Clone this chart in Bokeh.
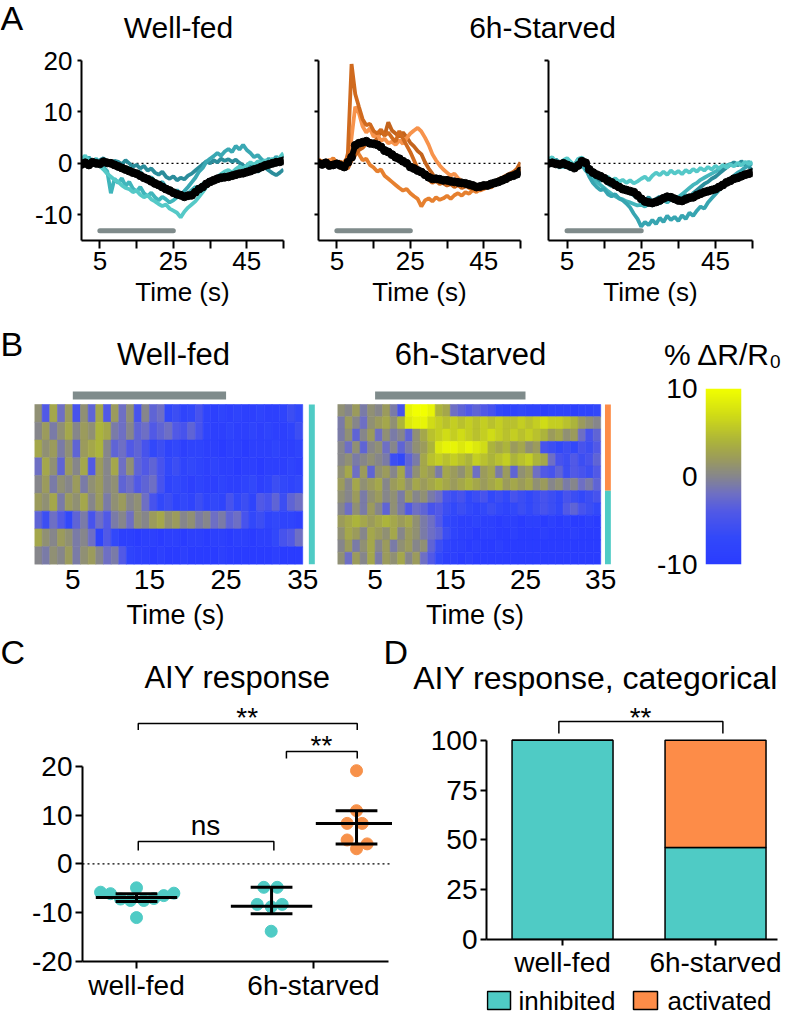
import numpy as np
from bokeh.plotting import figure
from bokeh.models import Range1d, Label, Span, FixedTicker, LinearColorMapper, ColumnDataSource
from bokeh.layouts import column, row
from bokeh.transform import linear_cmap
from bokeh.embed import file_html
from bokeh.resources import INLINE

FONT = "Liberation Sans"
TEAL = "#4fcbc5"
ORANGE = "#fd8c48"
GRAY_BAR = "#7f8b8b"

# ---------------- data: panel A (traces, % dR/R0 vs time) ----------------
time_s = list(range(56))
stim_on, stim_off = 5, 25

wf_mean = [-0.2, 0.1, -0.3, 0.2, 0.0, -0.1, 0.3, 0.1, 0.0, -0.3,
           -0.6, -0.9, -1.2, -1.5, -1.8, -2.0, -2.4, -2.8, -3.1, -3.5,
           -3.9, -4.2, -4.6, -5.0, -5.3, -5.7, -6.0, -6.2, -6.5, -6.3,
           -6.2, -5.6, -5.0, -4.6, -4.0, -3.6, -3.3, -3.0, -2.8, -2.7,
           -2.6, -2.4, -2.2, -2.0, -1.9, -1.7, -1.5, -1.2, -1.0, -0.7,
           -0.4, -0.2, 0.0, 0.2, 0.3, 0.5]
wf_tr1 = [0.5, -0.3, 0.8, 0.2, -0.5, 0.6, 1.0, 0.2, -0.4, 0.5,
          0.3, -0.2, 0.6, 0.0, -0.6, -0.3, -1.0, -0.5, -1.4, -1.0,
          -1.8, -2.2, -1.6, -2.6, -3.0, -2.5, -3.3, -2.8, -3.1, -2.4,
          -2.0, -1.4, -0.8, -0.2, 0.4, 0.0, 0.6, 0.2, 0.9, 0.5,
          0.8, 0.3, 0.7, 0.1, -0.4, -0.9, -0.5, -1.2, -1.6, -1.1,
          -0.8, -1.4, -1.9, -2.3, -1.8, -1.2]
wf_tr2 = [-0.5, 0.4, 1.2, 0.3, -0.4, 0.2, 0.8, -0.2, 0.5, -0.6,
          -0.9, -0.4, -1.3, -0.8, -1.7, -2.0, -1.6, -2.6, -3.0, -2.7,
          -3.5, -4.0, -3.6, -4.6, -5.3, -5.9, -5.2, -6.0, -5.4, -4.6,
          -3.7, -2.8, -1.6, -0.9, 0.3, 0.9, 1.4, 2.0, 1.5, 2.3,
          2.8, 2.2, 3.4, 2.7, 3.6, 2.6, 2.0, 1.2, 1.6, 0.8,
          0.2, 0.9, 0.4, 1.3, 0.7, 1.6]
wf_tr3 = [0.8, 1.5, 0.4, -0.3, 0.6, -0.5, -1.2, -2.0, -2.6, -3.2,
          -3.6, -4.3, -4.8, -5.0, -5.6, -5.3, -6.1, -6.6, -6.2, -7.0,
          -7.4, -7.9, -8.3, -8.0, -8.8, -9.2, -9.6, -10.5, -9.4, -8.6,
          -8.0, -7.4, -6.5, -5.6, -4.6, -3.8, -3.2, -2.6, -2.1, -1.6,
          -1.3, -1.8, -1.1, -0.6, -1.0, -0.4, 0.2, -0.3, 0.4, 0.1,
          0.6, 0.2, 0.9, 0.4, 1.2, 2.0]
wf_tr4 = [-0.2, 0.5, -0.6, 0.2, 0.9, 0.0, -0.8, -1.5, -5.8, -3.0,
          -3.8, -2.9, -4.4, -3.6, -4.9, -5.5, -4.6, -5.8, -6.4, -5.7,
          -6.6, -7.2, -6.5, -7.0, -7.6, -7.2, -6.6, -6.0, -6.8, -5.9,
          -5.2, -4.6, -4.9, -4.0, -3.7, -3.2, -3.6, -2.9, -3.3, -2.6,
          -2.9, -2.2, -2.6, -1.9, -2.3, -1.5, -1.8, -1.0, -1.3, -0.6,
          -0.9, -0.3, 0.3, -0.2, 0.6, 1.8]

act_mean = [0.0, -0.2, 0.1, -0.4, -0.3, -0.1, -0.4, -0.7, 0.2, 1.2,
            3.5, 3.9, 4.1, 4.3, 3.9, 3.8, 3.6, 3.2, 2.5, 2.2,
            1.7, 1.2, 0.9, 0.4, 0.0, -0.7, -1.0, -1.4, -1.7, -2.2,
            -2.7, -3.0, -3.0, -3.1, -3.3, -3.3, -3.5, -3.6, -3.7, -3.8,
            -3.9, -4.1, -4.3, -4.6, -4.5, -4.3, -4.3, -4.0, -3.8, -3.6,
            -3.3, -3.0, -2.6, -2.4, -2.1, -1.5]
act_tr1 = [0.3, -0.4, 0.6, 0.0, -0.8, 0.2, -0.5, -1.0, 2.0, 19.3,
           13.5, 11.0, 8.6, 7.4, 7.7, 6.3, 5.8, 6.6, 5.4, 6.0,
           5.0, 4.2, 6.3, 4.8, 3.5, 2.2, 0.6, -1.0, -2.0, -2.6,
           -3.1, -3.8, -3.4, -4.0, -3.7, -4.2, -3.9, -4.4, -4.1, -4.6,
           -4.3, -4.8, -5.0, -4.6, -5.2, -4.9, -4.4, -4.7, -4.0, -3.6,
           -3.2, -3.5, -2.8, -2.4, -1.9, -0.6]
act_tr2 = [-0.6, 0.4, -0.2, 0.8, -0.4, 0.2, -1.0, -0.3, 0.5, 5.0,
           11.0, 9.8, 7.2, 6.0, 6.8, 5.2, 5.6, 4.4, 4.8, 3.9,
           4.2, 3.6, 4.5, 3.8, 4.9, 5.8, 6.4, 6.9, 6.2, 5.0,
           3.6, 1.8, 0.6, -0.4, -1.2, -1.8, -2.4, -2.0, -2.9, -3.4,
           -3.8, -4.4, -4.0, -4.8, -5.3, -5.0, -4.6, -4.2, -3.8, -3.9,
           -3.4, -2.9, -3.1, -2.4, -1.8, -1.0]
act_tr3 = [0.8, 0.2, -0.5, 0.4, 1.0, 0.1, -0.6, 0.3, 1.2, 2.4,
           3.2, 1.8, 0.6, 0.9, -0.3, -0.8, -1.6, -1.2, -2.4, -3.0,
           -3.6, -4.2, -4.8, -5.3, -5.0, -5.8, -6.4, -6.9, -8.4, -7.2,
           -6.8, -7.4, -6.6, -7.1, -6.8, -6.3, -6.9, -6.2, -5.8, -6.3,
           -5.6, -5.9, -5.2, -5.6, -5.0, -4.7, -4.2, -4.5, -3.8, -3.5,
           -3.1, -2.6, -2.9, -2.2, -1.6, -1.2]
act_tr4 = [-0.3, 0.5, 0.0, -0.6, 0.3, -0.2, 0.4, -0.8, -1.0, 0.5,
           1.6, 2.6, 3.0, 3.8, 4.4, 3.6, 5.0, 6.2, 5.4, 8.0,
           6.4, 5.8, 5.2, 6.0, 5.1, 4.0, 3.3, 2.4, 1.8, 0.2,
           -1.0, -2.0, -3.2, -2.8, -3.9, -4.3, -4.0, -4.6, -4.2, -4.8,
           -4.5, -4.2, -4.7, -4.4, -4.9, -4.3, -3.9, -4.2, -3.6, -3.1,
           -2.8, -2.4, -2.0, -1.7, -1.1, 0.2]

inh_mean = [0.0, 0.1, -0.1, -0.2, 0.0, -0.3, -0.6, -0.9, -0.4, 0.4,
            0.1, -1.2, -1.8, -2.2, -2.5, -2.9, -3.4, -3.7, -4.2, -4.6,
            -5.0, -5.2, -5.4, -5.6, -6.2, -6.9, -7.4, -7.6, -7.7, -7.5,
            -7.2, -6.8, -6.5, -6.6, -6.9, -7.2, -7.3, -7.0, -6.7, -6.6,
            -6.2, -5.9, -5.6, -5.4, -5.2, -5.0, -4.6, -4.2, -3.7, -3.4,
            -3.0, -2.8, -2.5, -2.2, -2.0, -1.8]
inh_tr1 = [0.8, 1.2, 0.2, -0.5, 0.6, 1.0, 0.3, -0.4, 0.9, 1.1,
           0.4, -0.8, -1.6, -2.4, -2.0, -3.0, -2.6, -3.4, -2.9, -3.6,
           -3.2, -3.8, -3.3, -3.9, -3.5, -3.0, -2.6, -3.3, -2.4, -1.8,
           -2.3, -1.6, -2.2, -1.4, -2.0, -1.5, -2.1, -1.3, -1.8, -1.1,
           -1.6, -0.9, -1.4, -0.7, -1.2, -0.5, -1.0, -0.3, -0.8, -0.2,
           -0.6, 0.1, -0.4, 0.3, -0.1, 0.2]
inh_tr2 = [0.6, -0.2, 0.8, 0.1, -0.6, 0.3, -0.8, -0.3, 0.8, 0.5,
           -0.4, -1.6, -2.2, -2.8, -3.4, -3.0, -4.0, -4.4, -3.9, -4.8,
           -5.3, -4.9, -5.8, -6.2, -6.8, -6.4, -7.2, -6.6, -7.4, -6.9,
           -6.5, -7.1, -6.4, -6.8, -7.3, -6.7, -7.0, -6.2, -6.6, -5.8,
           -5.2, -4.6, -4.0, -3.6, -3.0, -2.6, -2.0, -1.4, -0.8, -0.3,
           0.2, -0.4, 0.4, -0.2, -0.6, -1.4]
inh_tr3 = [-0.3, 0.4, -0.5, 0.2, -0.8, -0.2, -1.0, -0.6, 0.3, -0.2,
           -1.0, -2.6, -3.8, -4.6, -5.2, -5.0, -6.0, -6.4, -6.0, -6.8,
           -7.2, -7.8, -8.6, -9.8, -10.8, -12.3, -11.4, -12.0, -11.0, -11.8,
           -10.6, -11.4, -10.2, -11.0, -10.4, -11.2, -10.1, -10.8, -9.6, -10.2,
           -9.2, -8.4, -8.8, -7.6, -6.8, -6.0, -5.2, -4.4, -3.6, -3.0,
           -2.4, -1.8, -1.4, -0.8, -0.4, 0.0]
inh_tr4 = [-0.6, 0.2, -0.2, -0.9, 0.1, -0.5, -1.2, -0.4, 0.4, -0.3,
           -1.4, -2.0, -2.8, -3.6, -4.2, -4.8, -5.4, -5.9, -6.4, -6.8,
           -7.0, -7.4, -7.6, -7.9, -8.2, -8.0, -8.4, -7.8, -8.2, -7.6,
           -7.8, -7.2, -7.6, -7.0, -7.3, -6.6, -6.0, -5.4, -4.8, -4.2,
           -3.8, -3.2, -2.8, -2.4, -2.0, -1.6, -1.2, -0.8, -0.4, -0.2,
           0.0, -0.3, 0.1, -0.2, 0.3, -0.1]

# ---------------- data: panel B (heatmaps, one row per animal, 1 s bins) ----------------
heat_time = list(range(35))
wf_heat = [
    [1, -4, 3, -2, 2, -5, 1, -3, 3, -4, 2, -2, 1, -5, 0, -3, -2, -7, -6, -8, -7, -5, -8, -9, -8, -9, -8, -9, -9, -8, -9, -9, -8, -6, -7],
    [0, 2, -1, 1, 3, 0, 2, 1, 4, 3, -1, -2, 0, -3, -2, -4, -3, -2, -4, -5, -3, -5, -8, -9, -9, -8, -9, -9, -8, -9, -8, -9, -9, -8, -6],
    [3, 1, 2, -1, 1, -3, 2, 3, 4, 0, -3, -2, -4, -3, -5, -7, -6, -8, -7, -9, -8, -8, -9, -9, -10, -9, -9, -10, -9, -9, -9, -8, -9, -9, -8],
    [-2, 3, 1, -3, 2, 0, 3, -4, 2, 0, 3, -2, 1, -3, -4, -3, -5, -7, -6, -8, -7, -8, -9, -8, -9, -9, -10, -9, -9, -10, -9, -9, -9, -8, -9],
    [0, 2, -1, 1, 0, 2, -1, 1, 2, 0, 1, -3, -2, -4, -3, -2, -5, -8, -7, -8, -9, -8, -9, -9, -8, -9, -9, -8, -7, -9, -8, -6, -7, -8, -7],
    [2, 1, 3, -1, 2, 1, 3, 0, 2, -1, 1, 2, 0, 1, -2, -5, -7, -6, -8, -7, -8, -6, -8, -7, -8, -5, -7, -6, -8, -4, -5, -3, -6, -3, -2],
    [-3, -6, -2, -4, -7, -3, -1, -5, -2, -4, -1, 0, -2, 1, 0, 2, 3, 1, 2, 0, 1, -1, 0, -2, -1, -3, -2, -5, -7, -6, -8, -7, -8, -8, -9],
    [3, 1, 0, 2, 1, -1, 0, -2, -8, -4, -7, -9, -9, -10, -9, -9, -10, -9, -9, -10, -9, -9, -10, -9, -9, -10, -9, -9, -10, -9, -9, -7, -5, -4, -2],
    [0, -1, 1, 0, 2, -1, 1, 2, 0, -2, -1, -4, -8, -9, -9, -10, -9, -10, -10, -9, -10, -10, -10, -10, -9, -10, -10, -10, -10, -10, -10, -9, -10, -10, -10],
]
st_heat = [
    [1, 0, 2, -1, 1, 0, 2, -1, -5, 9, 10, 10, 9, 4, 3, -2, -3, -4, -3, -4, -5, -7, -8, -8, -7, -8, -8, -9, -8, -8, -8, -9, -8, -8, -7],
    [-1, 2, 0, -2, 1, 2, 3, 1, 4, 8, 9, 9, 7, 6, 5, 6, 5, 6, 5, 6, 5, 6, 5, 5, 6, 5, 6, 7, 6, 6, 5, 4, 2, 1, 0],
    [-1, 1, -3, 0, 2, -2, 1, -1, 0, -3, 1, 3, 5, 6, 7, 6, 7, 6, 5, 6, 7, 6, 5, 6, 5, 6, 5, 4, 2, 3, 1, 2, -2, -5, -3],
    [0, -2, 1, -3, 0, 1, -2, 0, -3, -1, 1, 2, 4, 8, 9, 9, 8, 9, 8, 7, 4, 3, 4, 2, 3, 1, 2, -5, -6, -7, -6, -7, -5, -6, -4],
    [0, 1, -1, 0, 1, 0, -1, -6, -7, -3, -1, 3, 5, 6, 5, 6, 5, 4, 6, 5, 4, 5, 6, 4, 5, 6, 4, 3, -2, -5, -6, -4, -6, -5, -3],
    [1, 3, -2, 2, -3, 1, 2, 0, 3, -2, 1, 3, 2, -1, 3, 2, 1, 3, -2, 2, 3, -1, 2, -3, 1, 2, -2, -4, -5, -3, -6, -4, -5, -6, -4],
    [2, 0, 3, 1, 2, 3, 0, 2, 3, 1, 3, 2, 3, 4, 3, 2, 3, 4, 3, 2, 3, 4, 2, 3, 2, 3, 1, 2, 0, 1, -1, 0, -2, -1, -3],
    [1, 0, 2, -1, 1, 2, 0, 1, -1, 2, 0, 1, -1, -2, -5, -6, -5, -7, -6, -5, -7, -6, -7, -5, -6, -7, -6, -5, -6, -7, -5, -6, -7, -6, -5],
    [0, -2, 1, -1, 2, 0, -3, 1, -1, -4, -2, -3, -5, -4, -6, -7, -6, -7, -8, -7, -6, -7, -8, -7, -6, -7, -6, -5, -6, -7, -4, -3, -5, -6, -7],
    [2, 3, 4, 3, 2, 3, 4, 3, 2, 3, 1, -1, -2, -4, -7, -8, -9, -9, -8, -9, -9, -10, -9, -9, -10, -9, -9, -10, -9, -10, -9, -10, -10, -9, -10],
    [1, 3, 2, 0, 3, 2, 1, 3, 0, 2, 1, -1, -2, -3, -6, -8, -9, -9, -10, -9, -9, -10, -10, -9, -10, -10, -10, -9, -10, -10, -10, -9, -10, -10, -10],
    [0, 2, -1, 1, 3, 0, 2, -1, 1, 2, 0, 1, -3, -6, -8, -9, -9, -10, -9, -10, -10, -9, -10, -10, -10, -10, -10, -10, -10, -10, -10, -10, -10, -10, -10],
    [1, -2, 2, 0, 3, -1, 2, 1, 3, 0, 2, -2, -4, -7, -9, -9, -10, -9, -10, -10, -10, -10, -10, -10, -10, -10, -10, -10, -10, -10, -10, -10, -10, -10, -10],
]
st_activated_rows = 7
st_inhibited_rows = 6

# ---------------- data: panel C (extreme responses) ----------------
wf_pos = [-0.203, -0.147, -0.09, -0.034, 0.0, 0.041, 0.098, 0.154, 0.211, 0.0]
wf_vals = [-5.8, -6.1, -7.2, -7.5, -4.9, -7.5, -7.1, -6.5, -6.0, -11.0]
inh_pos = [0.719, 0.795, 0.682, 0.823, 0.761, 0.761]
inh_vals = [-4.8, -4.8, -8.3, -8.3, -8.8, -13.8]
act_pos = [1.243, 1.243, 1.19, 1.275, 1.19, 1.303, 1.243]
act_vals = [19.1, 10.9, 8.3, 8.3, 4.9, 4.1, 3.1]
grp_pos = [0.0, 0.763, 1.243]
grp_mean = [-6.9, -8.7, 8.3]
grp_low = [-7.7, -10.2, 4.1]
grp_high = [-6.1, -4.8, 10.9]

# ---------------- data: panel D (categorical) ----------------
cond_pos = [0, 1]
cond_labels = ["well-fed", "6h-starved"]
pct_inhibited = [100.0, 46.2]
pct_activated = [0.0, 53.8]
legend_labels = ["inhibited", "activated"]

# ---------------- colour map ----------------
anchors = [(-10, "#2a3cff"), (-7, "#3248fa"), (-4, "#5159e6"), (-2, "#6e6fc4"), (0, "#86868c"),
           (2, "#9b9b5c"), (4, "#acb33b"), (7, "#d0dc16"), (10, "#f2ff00")]


def build_palette(n=256):
    vals = [a[0] for a in anchors]
    rgb = [tuple(int(a[1][i:i + 2], 16) for i in (1, 3, 5)) for a in anchors]
    out = []
    for k in range(n):
        v = -10 + 20 * k / (n - 1)
        j = max(i for i in range(len(vals) - 1) if vals[i] <= v) if v < 10 else len(vals) - 2
        f = (v - vals[j]) / (vals[j + 1] - vals[j])
        c = [round(rgb[j][m] + f * (rgb[j + 1][m] - rgb[j][m])) for m in range(3)]
        out.append("#%02x%02x%02x" % tuple(c))
    return out


PALETTE = build_palette()


def fig(**kw):
    p = figure(title=None, output_backend="svg", toolbar_location=None, **kw)
    p.outline_line_color = None
    return p


def label(p, x, y, text, size, align="center", angle=0):
    p.add_layout(Label(x=x, y=y, text=text, text_font=FONT, text_font_size=size,
                       text_align=align, text_baseline="middle", angle=angle,
                       angle_units="deg", text_color="black"))


def strip(h):
    return fig(width=791, height=h, x_range=Range1d(0, 791), y_range=Range1d(0, h),
               x_axis_type=None, y_axis_type=None, min_border=0)


def style_axis(ax, size, tick_out=7, standoff=3):
    ax.axis_line_width = 2
    ax.axis_line_color = "black"
    ax.major_tick_line_width = 2
    ax.major_tick_line_color = "black"
    ax.major_tick_in = 0
    ax.major_tick_out = tick_out
    ax.minor_tick_line_color = None
    ax.major_label_text_font = FONT
    ax.major_label_text_font_size = size
    ax.major_label_text_color = "black"
    ax.major_label_standoff = standoff
    ax.axis_label_text_font = FONT
    ax.axis_label_text_font_size = size
    ax.axis_label_text_font_style = "normal"
    ax.axis_label_text_color = "black"


# ---------------- strip A (titles) ----------------
sA = strip(46)
label(sA, 0, 29, "A", "34px", align="left")
label(sA, 178, 19, "Well-fed", "30px")
label(sA, 542, 19, "6h-Starved", "30px")


def trace_panel(w, ml, mr, traces, colors, mean, first):
    p = fig(width=w, height=272, x_range=Range1d(0, 55), y_range=Range1d(-15, 20),
            min_border_left=ml, min_border_right=mr, min_border_top=14, min_border_bottom=78)
    p.grid.visible = False
    p.add_layout(Span(location=0, dimension="width", line_color="black", line_dash="2 3",
                      line_width=1.2, level="underlay"))
    p.segment(x0=[stim_on], y0=[-13.1], x1=[stim_off], y1=[-13.1], line_color=GRAY_BAR,
              line_width=5, line_cap="round")
    for tr, col in zip(traces, colors):
        p.line(time_s, tr, line_color=col, line_width=3.8)
    p.line(time_s, mean, line_color="black", line_width=6)
    p.scatter(time_s, mean, size=8, color="black")
    style_axis(p.xaxis[0], "26px", tick_out=8, standoff=3)
    style_axis(p.yaxis[0], "26px", tick_out=4, standoff=5)
    p.xaxis.ticker = FixedTicker(ticks=[5, 15, 25, 35, 45, 55])
    p.xaxis.major_label_overrides = {15: "", 35: "", 55: ""}
    p.xaxis.axis_label = "Time (s)"
    p.xaxis.axis_label_standoff = 4
    p.yaxis.ticker = FixedTicker(ticks=[-10, 0, 10, 20])
    if first:
        p.yaxis.major_label_overrides = {-10: "-10"}
        label(p, -17.6, 3.5, "% \u0394R/R\u2080", "26px", angle=90)
    else:
        p.yaxis.major_label_overrides = {-10: "", 0: "", 10: "", 20: ""}
    return p


a1 = trace_panel(300, 81, 17, [wf_tr1, wf_tr2, wf_tr4, wf_tr3],
                 ["#2b8d9b", "#3aa8b3", "#3fb5bb", "#55c9c7"], wf_mean, True)
a2 = trace_panel(233, 18, 13, [act_tr3, act_tr4, act_tr2, act_tr1],
                 ["#e6802f", "#c4641d", "#f7934c", "#d06a1e"], act_mean, False)
a3 = trace_panel(258, 15, 39, [inh_tr4, inh_tr2, inh_tr3, inh_tr1],
                 ["#45b6bc", "#2b8d9b", "#37a5b1", "#55c8c8"], inh_mean, False)

# ---------------- strip B (titles) ----------------
sB = strip(55)
label(sB, 0, 30, "B", "34px", align="left")
label(sB, 173, 19, "Well-fed", "31px")
label(sB, 470, 19, "6h-Starved", "31px")
label(sB, 723, 19, "% \u0394R/R\u2080", "30px")


def heat_panel(w, ml, mr, mat, xmax, side):
    n = len(mat)
    ytop = n * 187.0 / 170.0
    p = fig(width=w, height=259, x_range=Range1d(0, xmax), y_range=Range1d(0, ytop),
            y_axis_type=None, min_border_left=ml, min_border_right=mr,
            min_border_top=5, min_border_bottom=67)
    p.grid.visible = False
    xs, ys, vs = [], [], []
    for r, rv in enumerate(mat):
        for t, v in zip(heat_time, rv):
            xs.append(t + 0.5)
            ys.append(n - r - 0.5)
            vs.append(v)
    src = ColumnDataSource(dict(x=xs, y=ys, v=vs))
    cmap = linear_cmap("v", PALETTE, -10, 10)
    p.rect(x="x", y="y", width=1, height=1, source=src, fill_color=cmap, line_color=cmap, line_width=0.6)
    p.segment(x0=[stim_on], y0=[n * 1.056], x1=[stim_off], y1=[n * 1.056], line_color=GRAY_BAR, line_width=8)
    for (b, t, c) in side:
        p.quad(left=[xmax - 1.0], right=[xmax - 0.22], bottom=[b], top=[t], fill_color=c, line_color=None)
    ax = p.xaxis[0]
    style_axis(ax, "28px", tick_out=0, standoff=5)
    ax.axis_line_color = None
    ax.major_tick_line_color = None
    ax.ticker = FixedTicker(ticks=[5, 15, 25, 35])
    ax.axis_label = "Time (s)"
    ax.axis_label_text_font_size = "27px"
    ax.axis_label_standoff = 8
    return p


b1 = heat_panel(318, 34, 2, wf_heat, 36.8, [(0, len(wf_heat), TEAL)])
label(b1, -2.35, 4.6, "Animals", "27px", angle=90)
b2 = heat_panel(312, 19, 18, st_heat, 36.57,
                [(st_inhibited_rows, st_inhibited_rows + st_activated_rows, ORANGE), (0, st_inhibited_rows, TEAL)])

cb = fig(width=161, height=259, x_range=Range1d(0, 1), y_range=Range1d(-10, 10), x_axis_type=None,
         min_border_left=75, min_border_right=50, min_border_top=15, min_border_bottom=68)
cb.grid.visible = False
mapper = LinearColorMapper(palette=PALETTE, low=-10, high=10)
cb.image(image=[np.linspace(-10, 10, 256).reshape(-1, 1)], x=0, y=-10, dw=1, dh=20, color_mapper=mapper)
style_axis(cb.yaxis[0], "28px", tick_out=0, standoff=8)
cb.yaxis.axis_line_color = None
cb.yaxis.major_tick_line_color = None
cb.yaxis.ticker = FixedTicker(ticks=[-10, 0, 10])
cb.yaxis.major_label_overrides = {-10: "-10"}

# ---------------- strip C/D (titles) ----------------
sCD = strip(68)
label(sCD, 0, 49, "C", "34px", align="left")
label(sCD, 383, 49, "D", "34px", align="left")
label(sCD, 237, 23, "AIY response", "31px")
label(sCD, 595, 23, "AIY response, categorical", "32px")

# ---------------- panel C ----------------
c = fig(width=392, height=315, x_range=Range1d(-0.3051, 1.4463), y_range=Range1d(-20, 33.48),
        min_border_left=82, min_border_right=0, min_border_top=0, min_border_bottom=54)
c.grid.visible = False
c.add_layout(Span(location=0, dimension="width", line_color="black", line_dash="2 3",
                  line_width=1.2, level="underlay"))
c.scatter(wf_pos, wf_vals, size=12, color=TEAL)
c.scatter(inh_pos, inh_vals, size=12, color=TEAL)
c.scatter(act_pos, act_vals, size=12, color="#f7914a")
half_mean, half_cap = 0.23, 0.118
c.segment(x0=[g - half_mean for g in grp_pos], x1=[g + half_mean for g in grp_pos], y0=grp_mean, y1=grp_mean,
          line_color="black", line_width=3)
c.segment(x0=grp_pos, x1=grp_pos, y0=grp_low, y1=grp_high, line_color="black", line_width=3)
c.segment(x0=[g - half_cap for g in grp_pos] * 2, x1=[g + half_cap for g in grp_pos] * 2,
          y0=grp_low + grp_high, y1=grp_low + grp_high, line_color="black", line_width=3)
c.multi_line([[0.01, 0.01, 1.247, 1.247], [0.847, 0.847, 1.247, 1.247], [0.01, 0.01, 0.776, 0.776]],
             [[27.44, 28.77, 28.77, 27.44], [21.6, 23.03, 23.03, 21.6], [2.75, 4.59, 4.59, 2.75]],
             line_color="black", line_width=1.5)
label(c, 0.625, 29.9, "**", "28px")
label(c, 1.045, 24.2, "**", "28px")
label(c, 0.39, 7.8, "ns", "28px")
label(c, -0.661, 0.3, "% \u0394R/R\u2080 (extremes)", "26px", angle=90)
style_axis(c.xaxis[0], "28px", tick_out=7, standoff=1)
style_axis(c.yaxis[0], "28px", tick_out=7, standoff=3)
c.xaxis.ticker = FixedTicker(ticks=cond_pos)
c.xaxis.major_label_overrides = {0: cond_labels[0], 1: cond_labels[1]}
c.xaxis.bounds = (-0.3051, 1.424)
c.yaxis.ticker = FixedTicker(ticks=[-20, -10, 0, 10, 20])
c.yaxis.major_label_overrides = {-20: "-20", -10: "-10"}
c.yaxis.bounds = (-20, 20)

# ---------------- panel D ----------------
d = fig(width=401, height=285, x_range=Range1d(-0.497, 1.405), y_range=Range1d(0, 119.9),
        min_border_left=94, min_border_right=16, min_border_top=0, min_border_bottom=46)
d.grid.visible = False
dsrc = ColumnDataSource(dict(x=cond_pos, inhibited=pct_inhibited, activated=pct_activated))
bars = d.vbar_stack(["inhibited", "activated"], x="x", width=0.66, source=dsrc, color=[TEAL, ORANGE],
                    line_color="black", line_width=1.5)
d.multi_line([[-0.024, -0.024, 1.048, 1.048]], [[103.4, 109.4, 109.4, 103.4]], line_color="black", line_width=1.5)
label(d, 0.51, 111.6, "**", "28px")
label(d, -0.922, 45.7, "% Animals", "27px", angle=90)
style_axis(d.xaxis[0], "28px", tick_out=6, standoff=1)
style_axis(d.yaxis[0], "28px", tick_out=6, standoff=3)
d.xaxis.ticker = FixedTicker(ticks=cond_pos)
d.xaxis.major_label_overrides = {0: cond_labels[0], 1: cond_labels[1]}
d.yaxis.ticker = FixedTicker(ticks=[0, 25, 50, 75, 100])
d.yaxis.bounds = (0, 100)

# key for panel D: a small strip below the panel whose frame lines up with panel D's frame
# (x range expressed in page pixels, 486..777)
lgf = fig(width=401, height=30, x_range=Range1d(486, 777), y_range=Range1d(0, 30),
          x_axis_type=None, y_axis_type=None, min_border_left=94, min_border_right=16,
          min_border_top=0, min_border_bottom=0)
lgf.quad(left=[487, 633], right=[510, 657], bottom=[6, 6], top=[24, 24],
         fill_color=[TEAL, ORANGE], line_color="black", line_width=1.5)
label(lgf, 518, 15, legend_labels[0], "26px", align="left")
label(lgf, 667, 15, legend_labels[1], "26px", align="left")

layout = column(sA, row(a1, a2, a3), sB, row(b1, b2, cb), sCD, row(c, column(d, lgf)))
open("out.html", "w").write(file_html(layout, INLINE))
